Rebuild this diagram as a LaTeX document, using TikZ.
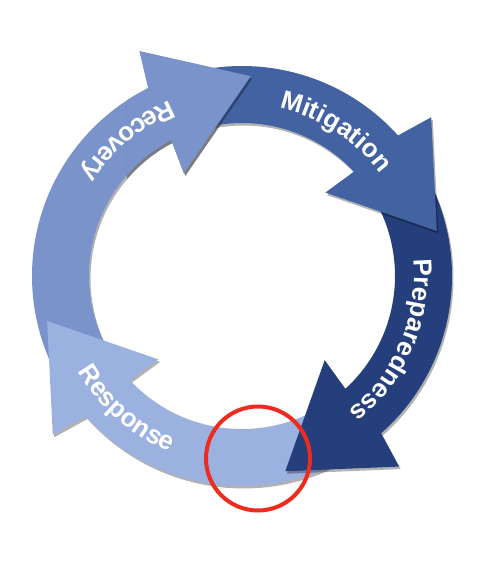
\documentclass[tikz,border=0pt]{standalone}
\usepackage{fontspec}
\setsansfont{Liberation Sans}
\usetikzlibrary{decorations.text}

\definecolor{recoveryblue}{HTML}{7A93CB}
\definecolor{mitigationblue}{HTML}{4262A2}
\definecolor{preparednessblue}{HTML}{243F7B}
\definecolor{responseblue}{HTML}{9BB1DF}
\definecolor{markred}{HTML}{EE2B1F}

\newcommand{\labelfont}{\fontsize{26}{30}\selectfont\bfseries\sffamily}
\newcommand{\cyclearrow}[3]{%
  \fill[#3] (#1:210) arc[start angle=#1, end angle=#2, radius=210pt]
    -- ({#2-2}:247) -- ({#2-29}:200) -- ({#2+3}:118) -- ({#2+1}:153)
    arc[start angle={#2+1}, end angle=#1, radius=153pt] -- cycle;}

\tikzset{
  arrowshadow/.style={fill=black, opacity=0.3, shift={(1.5,-2.5)}},
  ringlabel/.style={decorate, decoration={text along path, text align=center,
    text color=white, text={|\labelfont|#1}}}
}

\begin{document}
\begin{tikzpicture}[x=1pt,y=1pt]
   \useasboundingbox (-242,-290) rectangle (246,276);

   \cyclearrow{216}{116.5}{arrowshadow}
   \cyclearrow{216}{116.5}{recoveryblue}
   \cyclearrow{305.5}{222}{arrowshadow}
   \cyclearrow{305.5}{222}{responseblue}
   \cyclearrow{36}{-48.5}{arrowshadow}
   \cyclearrow{36}{-48.5}{preparednessblue}
   \cyclearrow{110.5}{42}{arrowshadow}
   \cyclearrow{110.5}{42}{mitigationblue}
   \begin{scope}
      \clip (-115,90) rectangle (25,265);
      \cyclearrow{216}{116.5}{arrowshadow}
      \cyclearrow{216}{116.5}{recoveryblue}
   \end{scope}

   \path[ringlabel=Recovery] (100:190) arc[start angle=100, end angle=160, radius=190pt];
   \path[ringlabel=Mitigation] (87:172) arc[start angle=87, end angle=27, radius=172pt];
   \path[ringlabel=Preparedness] (12:172) arc[start angle=12, end angle=-58, radius=172pt];
   \path[ringlabel=Response] (199:190) arc[start angle=199, end angle=259, radius=190pt];

   \node (focus) [draw=markred, line width=4pt, circle, minimum size=104pt] at (16,-182.5) {};
\end{tikzpicture}
\end{document}
